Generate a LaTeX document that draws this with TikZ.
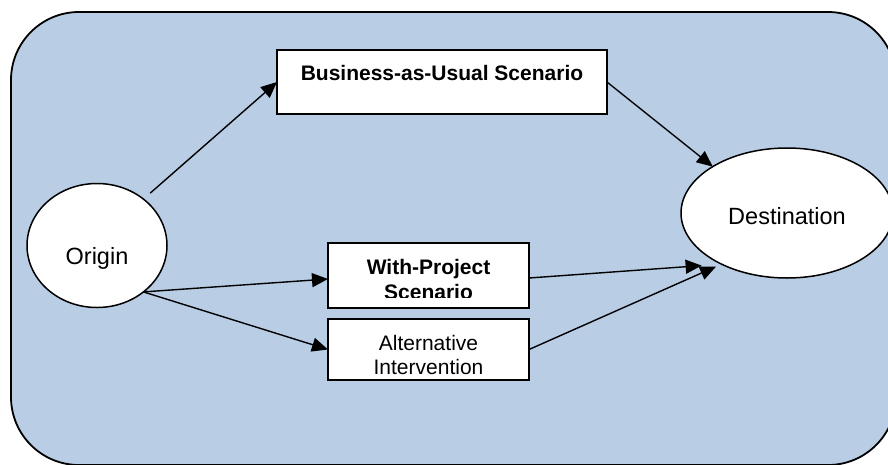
\documentclass[tikz,border=0pt]{standalone}
\usepackage{fontspec}
\setmainfont{Liberation Sans}
\usetikzlibrary{arrows.meta,shapes.geometric}
\definecolor{bgblue}{RGB}{185,205,229}
\begin{document}
\begin{tikzpicture}[x=1pt,y=-1pt,
  arr/.style={line width=1.4pt,-{Triangle[length=16pt,width=14pt]}},
  box/.style={draw,fill=white,line width=1.8pt,rectangle,inner sep=0pt,outer sep=0pt},
  oval/.style={draw,fill=white,ellipse,line width=1.5pt,inner sep=0pt,outer sep=0pt},
  bigtxt/.style={font=\fontsize{23.5}{28}\selectfont},
  btxt/.style={font=\fontsize{21}{25}\selectfont\bfseries,align=center,inner sep=0pt},
  rtxt/.style={font=\fontsize{21}{24}\selectfont,align=center,inner sep=0pt}]
\useasboundingbox (0,0) rectangle (888,464);
\draw[fill=bgblue,line width=1.8pt,rounded corners=68pt] (11,12) rectangle (896,465);
\node[oval,bigtxt,minimum width=140pt,minimum height=124pt,text height=40pt,text depth=2.2pt] (origin) at (97,245.5) {Origin};
\node[oval,bigtxt,minimum width=212pt,minimum height=130pt,text height=25pt,text depth=2.2pt] (dest) at (787,213) {Destination};
\node[box,minimum width=330pt,minimum height=64pt,font=\fontsize{21}{25}\selectfont\bfseries,text height=10pt,text depth=13pt] (bau) at (442,82) {Business-as-Usual Scenario};
\node[box,minimum width=201pt,minimum height=65pt] (wp) at (428.5,275.5) {};
\begin{scope}
  \clip (328,243) rectangle (529,297);
  \node[btxt] (wptext) at (428.5,279.5) {With-Project\\Scenario};
\end{scope}
\node[box,minimum width=201pt,minimum height=61pt] (alt) at (428.5,349.5) {};
\node[rtxt] (alttext) at (428.5,354.9) {Alternative\\Intervention};
\draw[arr,shorten <=9pt] (origin.45) -- (bau.west);
\draw[arr] (bau.east) -- (dest.148);
\draw[arr] (origin.-45) -- ([yshift=-3.5pt]wp.west);
\draw[arr] (origin.-45) -- (alt.west);
\draw[arr,shorten >=20pt] ([yshift=-2.5pt]wp.east) -- (dest.218);
\draw[arr,shorten >=6pt] (alt.east) -- (dest.218);
\end{tikzpicture}
\end{document}
